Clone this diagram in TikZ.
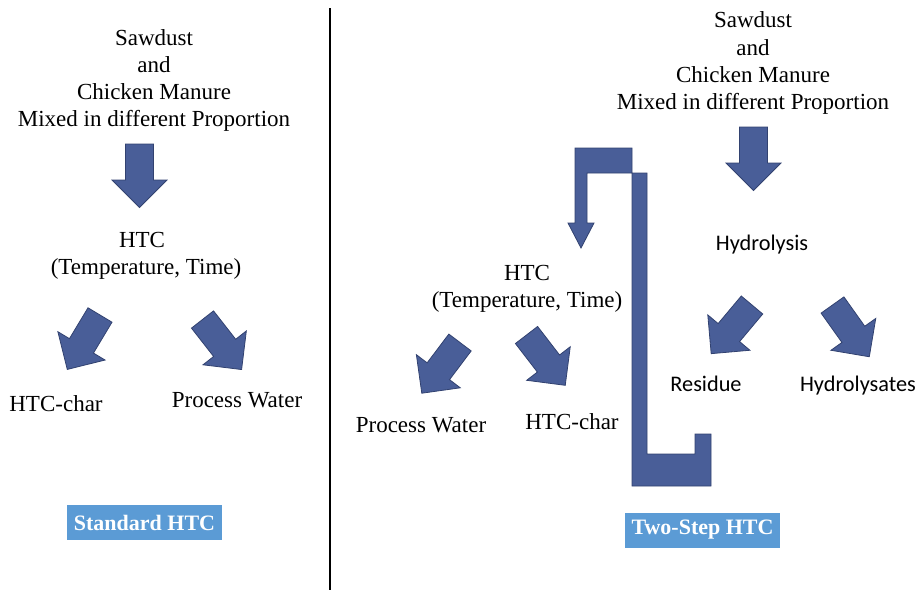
\documentclass[tikz,border=0pt]{standalone}
\usepackage{fontspec}
\setmainfont{Liberation Serif}
\newfontfamily\sansf{Carlito}
\definecolor{arrowblue}{RGB}{73,94,152}
\definecolor{arrowdark}{RGB}{50,66,112}
\definecolor{boxblue}{RGB}{91,155,213}
\tikzset{
  txt/.style={font=\fontsize{23}{27}\selectfont, inner sep=0pt, anchor=base},
  stxt/.style={font=\sansf\fontsize{22.3}{26}\selectfont, inner sep=0pt, anchor=base},
  boxlabel/.style={font=\bfseries\fontsize{22}{26}\selectfont, text=white, fill=boxblue,
    minimum width=155pt, minimum height=35pt, inner sep=0pt},
  arrowshape/.style={fill=arrowblue, draw=arrowdark, line width=0.8pt, line join=miter},
  blockarrow/.pic={\path[arrowshape] (0,-14) -- (36,-14) -- (36,-27.5) -- (63.5,0)
      -- (36,27.5) -- (36,14) -- (0,14) -- cycle;}
}
\begin{document}
\begin{tikzpicture}[x=1pt,y=1pt]
\useasboundingbox (0,0) rectangle (921,-592);
% divider
\draw[line width=1.5pt] (330,-8) coordinate (divtop) -- (330,-590) coordinate (divbot);

% ---------- left: standard HTC ----------
\node[txt] (lsaw) at (154,-45) {Sawdust};
\node[txt] (land) at (154,-72) {and};
\node[txt] (lchk) at (154,-99) {Chicken Manure};
\node[txt] (lmix) at (154,-126) {Mixed in different Proportion};
\pic (ldown) [rotate=-90] at (139.5,-144) {blockarrow};
\node[txt] (lhtc) at (142,-247) {HTC};
\node[txt] (ltt) at (146,-274) {(Temperature, Time)};
\pic (la1) [rotate=239] at (100,-315) {blockarrow};
\pic (la2) [rotate=-52] at (202.5,-319.5) {blockarrow};
\node[txt] (lchar) at (56,-411) {HTC-char};
\node[txt] (lpw) at (237,-407) {Process Water};
\node[boxlabel] (lstd) at (144.5,-522.5) {Standard HTC};

% ---------- right: two-step HTC ----------
\node[txt] (rsaw) at (753,-27) {Sawdust};
\node[txt] (rand) at (753,-55) {and};
\node[txt] (rchk) at (753,-82) {Chicken Manure};
\node[txt] (rmix) at (753,-109) {Mixed in different Proportion};
\pic (rdown) [rotate=-90] at (753.5,-127) {blockarrow};
\node[stxt] (hyd) at (762,-250) {Hydrolysis};
\pic (ha1) [rotate=230] at (752,-305) {blockarrow};
\pic (ha2) [rotate=-54.6] at (832.5,-305) {blockarrow};
\node[stxt] (res) at (706,-391) {Residue};
\node[stxt] (hyds) at (858,-391) {Hydrolysates};

% U-turn arrow from residue back to HTC
\path[arrowshape] (711,-434) -- (711,-486) -- (632,-486) -- (632,-148) -- (575,-148)
  -- (575,-223) -- (568,-223) -- (581,-248) -- (594,-223) -- (587,-223) -- (587,-173)
  -- (647,-173) -- (647,-454) -- (695,-454) -- (695,-434) -- cycle;

\node[txt] (rhtc) at (527,-280) {HTC};
\node[txt] (rtt) at (527,-307) {(Temperature, Time)};
\pic (ra1) [rotate=233] at (460,-342.5) {blockarrow};
\pic (ra2) [rotate=-52.4] at (526.5,-335) {blockarrow};
\node[txt] (rpw) at (421,-432) {Process Water};
\node[txt] (rchar) at (572,-429) {HTC-char};
\node[boxlabel] (rtwo) at (702.5,-530) {Two-Step HTC};
\end{tikzpicture}
\end{document}
